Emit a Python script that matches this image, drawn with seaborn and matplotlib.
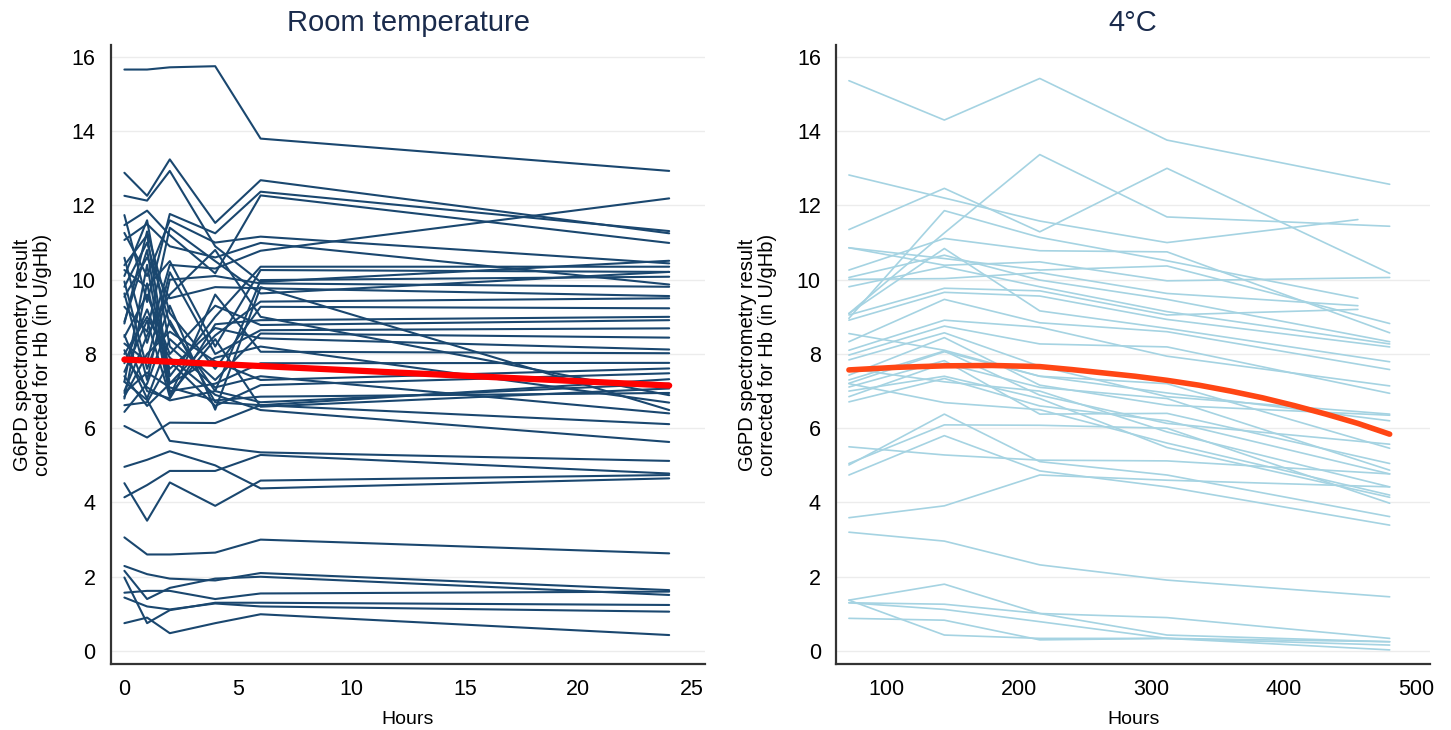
import matplotlib
matplotlib.use('Agg')
import matplotlib.pyplot as plt
import numpy as np
import pandas as pd
import seaborn as sns

# ---------------- data ----------------
rt_hours = [0, 1, 2, 4, 6, 24]

# room temperature, one row per sample (value at each of rt_hours)
rt_high = [
    [15.66, 15.66, 15.72, 15.75, 13.80, 12.93],
    [12.88, 12.26, 13.24, 11.53, 12.68, 11.25],
    [12.26, 12.13, 12.93, 10.90, 9.94, 10.51],
    [11.74, 9.40, 11.77, 11.25, 12.37, 11.31],
    [11.47, 11.86, 11.20, 10.17, 12.27, 10.99],
    [11.26, 10.10, 11.60, 11.00, 11.16, 10.44],
    [11.07, 11.50, 10.90, 10.60, 10.99, 9.87],
    [10.59, 8.30, 10.40, 10.30, 10.78, 12.19],
    [10.39, 11.20, 7.40, 9.00, 10.35, 10.35],
    [10.26, 9.80, 10.50, 8.20, 10.26, 10.21],
    [9.81, 11.00, 8.80, 7.00, 9.99, 10.08],
    [9.63, 7.30, 10.00, 10.10, 9.90, 9.81],
    [9.54, 10.60, 9.50, 9.80, 9.77, 9.56],
    [9.27, 8.60, 11.40, 10.50, 9.63, 10.21],
    [8.87, 10.80, 7.20, 8.50, 9.41, 9.50],
    [8.82, 11.30, 9.10, 7.60, 9.27, 9.23],
    [8.51, 7.00, 6.80, 8.80, 8.91, 9.00],
    [8.46, 9.60, 8.00, 9.30, 8.78, 8.91],
    [8.28, 7.80, 10.20, 8.00, 8.64, 8.69],
    [8.10, 6.80, 8.40, 7.30, 8.55, 8.44],
    [7.75, 9.20, 7.60, 8.70, 8.42, 8.12],
    [7.52, 8.90, 6.85, 9.60, 8.06, 8.02],
    [7.25, 10.40, 7.00, 7.20, 7.75, 7.76],
    [6.85, 8.00, 8.60, 7.80, 7.30, 7.61],
    [6.62, 6.70, 7.80, 6.60, 7.16, 7.48],
    [6.44, 7.20, 8.90, 6.70, 6.62, 7.32],
    [6.80, 9.90, 6.90, 8.40, 6.58, 7.07],
    [7.00, 8.50, 9.60, 10.80, 9.00, 6.89],
    [7.40, 6.60, 7.20, 7.90, 8.20, 6.69],
    [9.95, 7.60, 9.30, 6.50, 9.80, 6.49],
    [10.10, 11.60, 8.20, 7.10, 7.40, 6.40],
    [8.00, 9.00, 7.90, 6.90, 6.49, 5.63],
    [6.06, 5.75, 6.15, 6.14, 6.62, 6.11],
    [7.25, 6.76, 5.66, 5.50, 5.35, 5.12],
    [7.90, 7.10, 6.75, 7.00, 6.70, 7.20],
    [6.95, 7.50, 7.10, 6.75, 6.85, 6.95],
]
rt_low = [
    [4.96, 5.15, 5.38, 5.00, 4.38, 4.65],
    [4.14, 4.47, 4.85, 4.85, 5.28, 4.78],
    [4.52, 3.51, 4.54, 3.91, 4.59, 4.74],
    [3.06, 2.60, 2.60, 2.65, 3.00, 2.63],
    [2.29, 2.07, 1.95, 1.90, 2.10, 1.64],
    [2.16, 1.40, 1.70, 1.95, 2.00, 1.51],
    [1.98, 0.75, 1.10, 1.30, 1.30, 1.24],
    [1.57, 1.62, 1.62, 1.40, 1.55, 1.60],
    [1.44, 1.20, 1.12, 1.28, 1.20, 1.06],
    [0.75, 0.90, 0.48, 0.75, 0.99, 0.43],
]
rt_fit_hours = [0, 24]
rt_fit_values = [7.85, 7.15]

cold_hours = [72, 144, 216, 312, 480]
cold_short_end = 456          # a few samples stop here instead of 480
cold_short_ids = [1, 4, 9, 11]

cold_values = [
    [15.36, 14.30, 15.42, 13.76, 12.57],
    [12.82, 12.20, 11.58, 11.00, 11.62],
    [11.35, 12.46, 11.29, 13.00, 10.17],
    [9.09, 11.26, 13.37, 11.69, 11.44],
    [8.96, 11.86, 11.14, 10.51, 9.50],
    [10.86, 10.57, 10.26, 10.37, 8.82],
    [10.86, 10.39, 10.48, 9.97, 10.06],
    [10.26, 11.11, 10.78, 10.75, 8.57],
    [10.06, 10.66, 9.99, 9.47, 8.33],
    [10.01, 10.03, 10.19, 9.63, 9.30],
    [9.81, 10.35, 9.81, 9.14, 8.27],
    [9.05, 9.77, 9.70, 9.05, 9.20],
    [8.91, 9.66, 9.56, 8.93, 8.19],
    [9.09, 10.84, 9.16, 8.69, 7.79],
    [8.33, 9.47, 8.84, 8.60, 7.58],
    [8.10, 8.91, 8.72, 7.94, 7.14],
    [7.97, 8.75, 8.27, 8.19, 6.94],
    [7.84, 8.57, 7.67, 6.85, 6.38],
    [7.43, 8.44, 7.16, 6.62, 6.35],
    [7.30, 8.08, 6.89, 6.13, 5.57],
    [7.21, 8.06, 7.40, 7.20, 5.46],
    [7.11, 7.82, 6.38, 6.40, 5.05],
    [6.85, 7.75, 7.10, 6.80, 4.87],
    [6.71, 7.34, 6.60, 6.20, 4.77],
    [7.60, 7.25, 7.00, 5.90, 4.42],
    [7.20, 6.69, 6.50, 5.60, 4.20],
    [7.00, 7.40, 6.80, 5.48, 4.14],
    [8.55, 8.10, 7.40, 6.95, 6.20],
    [5.50, 5.28, 5.14, 5.12, 4.77],
    [5.05, 6.09, 6.08, 6.00, 3.98],
    [5.01, 6.38, 5.10, 4.74, 3.62],
    [4.74, 5.80, 4.85, 4.42, 3.39],
    [3.59, 3.91, 4.74, 4.60, 4.42],
    [3.20, 2.96, 2.32, 1.91, 1.46],
    [1.37, 1.80, 1.01, 0.90, 0.34],
    [1.30, 1.26, 1.01, 0.43, 0.25],
    [1.30, 1.12, 0.79, 0.34, 0.16],
    [0.88, 0.83, 0.30, 0.34, 0.25],
    [1.37, 0.43, 0.34, 0.34, 0.03],
]
cold_fit_hours = [72, 108, 144, 180, 216, 240, 264, 288, 312, 336, 360,
                  384, 408, 432, 456, 480]
cold_fit_values = [7.57, 7.64, 7.68, 7.69, 7.66, 7.58, 7.49, 7.40, 7.29,
                   7.16, 7.00, 6.82, 6.61, 6.38, 6.13, 5.84]


def to_long(rows, hours, short_ids=(), short_end=None):
    recs = []
    for i, row in enumerate(rows):
        hrs = list(hours)
        if i in short_ids:
            hrs[-1] = short_end
        for h, v in zip(hrs, row):
            recs.append({'id': i, 'hours': h, 'value': v})
    return pd.DataFrame(recs)


rt_df = to_long(rt_high + rt_low, rt_hours)
cold_df = to_long(cold_values, cold_hours, cold_short_ids, cold_short_end)

# ---------------- plot ----------------
sns.set_style('white')
plt.rcParams['font.family'] = ['Liberation Sans', 'DejaVu Sans']

fig = plt.figure(figsize=(14.51, 7.30), dpi=100)
ax1 = fig.add_axes([0.0765, 0.0904, 0.4094, 0.8479])
ax2 = fig.add_axes([0.5762, 0.0904, 0.4094, 0.8479])

sns.lineplot(data=rt_df, x='hours', y='value', units='id', estimator=None,
             color='#1a476f', lw=1.5, ax=ax1)
sns.lineplot(x=rt_fit_hours, y=rt_fit_values, color='#ff0000', lw=4.5,
             solid_capstyle='round', ax=ax1, zorder=5)

sns.lineplot(data=cold_df, x='hours', y='value', units='id', estimator=None,
             color='#a5d3e2', lw=1.2, ax=ax2)
sns.lineplot(x=cold_fit_hours, y=cold_fit_values, color='#ff4614', lw=4.0,
             solid_capstyle='round', ax=ax2, zorder=5)

ax1.set_xlim(-0.59, 25.58)
ax1.set_xticks([0, 5, 10, 15, 20, 25])
ax2.set_xlim(62.3, 510.5)
ax2.set_xticks([100, 200, 300, 400, 500])

titles = ['Room temperature', '4°C']
for ax, title in zip([ax1, ax2], titles):
    ax.set_ylim(-0.35, 16.32)
    ax.set_yticks(range(0, 17, 2))
    ax.grid(axis='y', color='#ececec', lw=1)
    ax.set_axisbelow(True)
    for s in ['top', 'right']:
        ax.spines[s].set_visible(False)
    for s in ['left', 'bottom']:
        ax.spines[s].set_color('#333333')
        ax.spines[s].set_linewidth(1.6)
    ax.tick_params(axis='both', length=5, width=1, color='#888888',
                   labelsize=15.5, labelcolor='black', pad=6)
    ax.set_title(title, fontsize=21, color='#1a2b4c', pad=10)
    ax.set_xlabel('Hours', fontsize=14, labelpad=8, color='black')
    ax.set_ylabel('G6PD spectrometry result\ncorrected for Hb (in U/gHb)',
                  fontsize=14.5, labelpad=14, linespacing=1.1, color='black')

fig.savefig('out.png', dpi=100)
